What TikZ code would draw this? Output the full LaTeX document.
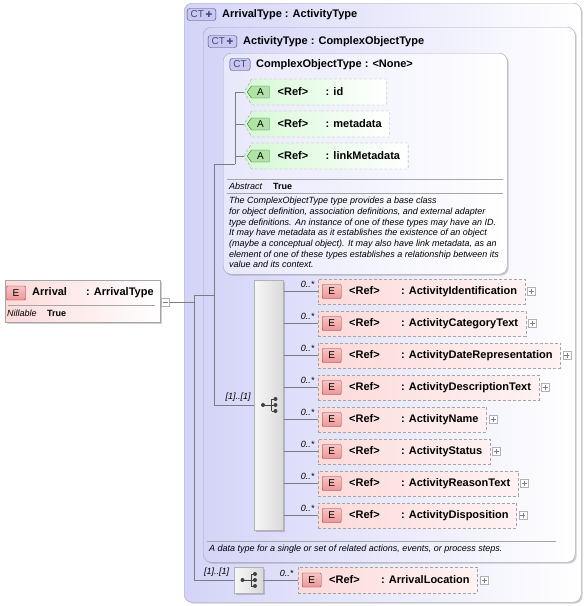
\documentclass[tikz,border=0pt]{standalone}
\usepackage{fontspec}
\setmainfont{Liberation Sans}
\newfontfamily\symfont{DejaVu Sans}
\usetikzlibrary{positioning,shapes.misc,shapes.symbols,shadows}
\definecolor{ctfill}{RGB}{212,212,248}
\definecolor{ctlight}{RGB}{232,232,252}
\definecolor{ctedge}{RGB}{165,165,180}
\definecolor{ctbadge}{RGB}{200,200,242}
\definecolor{ctdark}{RGB}{70,70,120}
\definecolor{elfill}{RGB}{252,218,218}
\definecolor{elbadge}{RGB}{238,150,150}
\definecolor{eldark}{RGB}{150,50,50}
\definecolor{atfill}{RGB}{214,248,214}
\definecolor{atbadge}{RGB}{176,228,166}
\definecolor{atdark}{RGB}{50,115,50}
\definecolor{lne}{RGB}{125,125,125}
\definecolor{dsh}{RGB}{165,165,165}
\newcommand{\NmFont}{\fontsize{11}{13}\selectfont\bfseries}
\newcommand{\DocFont}{\fontsize{9}{10.7}\selectfont\itshape}
\newcommand{\OccFont}{\fontsize{9}{11}\selectfont\itshape}
\newcommand{\CtPlus}{\,{\symfont\fontsize{8}{8}\selectfont ✚}}
\newcommand{\ElemText}[1]{\hspace*{31pt}\makebox[52pt][l]{<Ref>}: #1\hspace*{8pt}}
\newcommand{\AttrText}[1]{\hspace*{26pt}\makebox[48pt][l]{<Ref>}: #1\hspace*{8pt}}
\tikzset{
  TypeBox/.style={draw=ctedge,rounded corners=8pt,left color=ctfill,right color=white,inner sep=0pt,anchor=north west,
    drop shadow={shadow xshift=1.5pt,shadow yshift=-1.5pt,fill=black,opacity=.18}},
  InBox/.style={TypeBox,left color=ctlight},
  CtBadge/.style={draw=ctdark,fill=ctbadge,rounded corners=2.5pt,minimum height=12pt,inner xsep=3.5pt,inner ysep=0pt,text=ctdark,font=\fontsize{10}{10}\selectfont},
  Hdr/.style={anchor=west,inner sep=0pt,font=\NmFont},
  ElemBox/.style={draw=dsh,dash pattern=on 3pt off 2pt,left color=elfill,right color=elfill!35,minimum height=25pt,inner xsep=0pt,anchor=west,font=\NmFont},
  EBadge/.style={draw=eldark,top color=elbadge!55,bottom color=elbadge,minimum width=19pt,minimum height=14pt,inner sep=0pt,rounded corners=1pt,font=\fontsize{10}{10}\selectfont},
  AttrBox/.style={shape=signal,signal to=west,signal pointer angle=120,draw=dsh,dash pattern=on 3pt off 2pt,left color=atfill,right color=white,
    minimum height=26pt,inner xsep=0pt,anchor=west,font=\NmFont},
  ABadge/.style={shape=signal,signal to=west,signal pointer angle=110,draw=atdark,fill=atbadge,minimum height=12pt,minimum width=22pt,inner sep=0pt,font=\fontsize{10}{10}\selectfont},
  SeqBox/.style={draw=gray!60,left color=gray!6,right color=gray!30,inner sep=0pt,
    drop shadow={shadow xshift=1.5pt,shadow yshift=-1.5pt,fill=black,opacity=.18}},
  PlusBox/.style={draw=gray!60,fill=white,minimum size=8pt,inner sep=0pt,
    path picture={\draw[gray,line width=.5pt] (path picture bounding box.center) +(-2.5,0) -- +(2.5,0)
      (path picture bounding box.center) +(0,-2.5) -- +(0,2.5);}},
  MinusBox/.style={draw=gray!60,fill=white,minimum size=8pt,inner sep=0pt,
    path picture={\draw[gray,line width=.5pt] (path picture bounding box.center) +(-2.5,0) -- +(2.5,0);}},
  Occ/.style={inner sep=0.5pt,font=\OccFont},
  Doc/.style={anchor=north west,align=left,inner sep=0pt,font=\DocFont},
  SepLine/.style={draw=gray!70,line width=.6pt},
  seqmark/.pic={
    \draw[black!75,line width=.7pt] (-6,0) -- (2.5,0) (2.5,-6) -- (2.5,6) (2.5,-6) -- (6.5,-6) (2.5,6) -- (6.5,6) (2.5,0) -- (6.5,0);
    \fill[black!75] (-6,0) circle (2) (6.5,-6) circle (2) (6.5,0) circle (2) (6.5,6) circle (2);
  }
}

\begin{document}
\begin{tikzpicture}[x=1pt,y=-1pt]
  \useasboundingbox (0,0) rectangle (588,606);
  \node[TypeBox,minimum width=397pt,minimum height=599pt] (ArrT) at (184,3) {};
  \node[TypeBox,minimum width=372pt,minimum height=535pt] (ActT) at (203,27) {};
  \node[InBox,minimum width=284pt,minimum height=221pt] (CoT) at (223,53) {};
  \node[CtBadge] (ArrT-b) at (201.5,14.5) {CT\CtPlus};
  \node[Hdr] (ArrT-h) at (222,14.5) {ArrivalType : ActivityType};
  \node[CtBadge] (ActT-b) at (222.5,41.5) {CT\CtPlus};
  \node[Hdr] (ActT-h) at (243,41.5) {ActivityType : ComplexObjectType};
  \node[CtBadge] (CoT-b) at (240,64.5) {CT};
  \node[Hdr] (CoT-h) at (256,64.5) {ComplexObjectType : <None>};

  \node[draw=gray!70,left color=elfill,right color=white,minimum width=155pt,minimum height=42pt,inner sep=0pt,anchor=north west,
    drop shadow={shadow xshift=1.5pt,shadow yshift=-1.5pt,fill=black,opacity=.18}] (Arr) at (5,280) {};
  \node[EBadge] (Arr-b) at (16,293) {E};
  \node[Hdr] (Arr-n) at (32,292.5) {\makebox[54pt][l]{Arrival}: ArrivalType};
  \draw[SepLine] (8,305) -- (155,305);
  \node[anchor=west,inner sep=0pt,font=\fontsize{9}{11}\selectfont\itshape] (Arr-k) at (7,313) {Nillable};
  \node[anchor=west,inner sep=0pt,font=\fontsize{9}{11}\selectfont\bfseries] (Arr-v) at (47,313) {True};
  \node[MinusBox] (mArr) at (165.5,302) {};

  \node[AttrBox] (a1) at (244,92) {\AttrText{id}\hspace*{35pt}};
  \node[AttrBox] (a2) at (244,124) {\AttrText{metadata}};
  \node[AttrBox] (a3) at (244,156) {\AttrText{linkMetadata}};
  \node[ABadge,right=3pt of a1.west] (a1b) {A};
  \node[ABadge,right=3pt of a2.west] (a2b) {A};
  \node[ABadge,right=3pt of a3.west] (a3b) {A};

  \draw[SepLine] (227,179) -- (503,179);
  \node[anchor=west,inner sep=0pt,font=\fontsize{9}{11}\selectfont\itshape] (CoT-k) at (229,186) {Abstract};
  \node[anchor=west,inner sep=0pt,font=\fontsize{9}{11}\selectfont\bfseries] (CoT-v) at (273,186) {True};
  \draw[SepLine] (227,193) -- (503,193);
  \node[Doc] (CoT-d) at (229,197) {The ComplexObjectType type provides a base class\\
    for object definition, association definitions, and external adapter\\
    type definitions. An instance of one of these types may have an ID.\\
    It may have metadata as it establishes the existence of an object\\
    (maybe a conceptual object). It may also have link metadata, as an\\
    element of one of these types establishes a relationship between its\\
    value and its context.};

  \node[SeqBox,minimum width=29pt,minimum height=250pt] (sq1) at (269,405) {};
  \pic at (sq1.center) {seqmark};
  \node[Occ,above left=3pt and 3pt of sq1.west] (sq1-o) {[1]..[1]};

  \node[ElemBox] (e1) at (318,291.5) {\ElemText{ActivityIdentification}};
  \node[ElemBox] (e2) at (318,323.5) {\ElemText{ActivityCategoryText}};
  \node[ElemBox] (e3) at (318,355.5) {\ElemText{ActivityDateRepresentation}};
  \node[ElemBox] (e4) at (318,387.5) {\ElemText{ActivityDescriptionText}};
  \node[ElemBox] (e5) at (318,419.5) {\ElemText{ActivityName}};
  \node[ElemBox] (e6) at (318,451.5) {\ElemText{ActivityStatus}};
  \node[ElemBox] (e7) at (318,483.5) {\ElemText{ActivityReasonText}};
  \node[ElemBox] (e8) at (318,515.5) {\ElemText{ActivityDisposition}};
  \node[EBadge,right=4pt of e1.west] (e1b) {E};
  \node[EBadge,right=4pt of e2.west] (e2b) {E};
  \node[EBadge,right=4pt of e3.west] (e3b) {E};
  \node[EBadge,right=4pt of e4.west] (e4b) {E};
  \node[EBadge,right=4pt of e5.west] (e5b) {E};
  \node[EBadge,right=4pt of e6.west] (e6b) {E};
  \node[EBadge,right=4pt of e7.west] (e7b) {E};
  \node[EBadge,right=4pt of e8.west] (e8b) {E};
  \node[PlusBox,right=2pt of e1.east] (e1p) {};
  \node[PlusBox,right=2pt of e2.east] (e2p) {};
  \node[PlusBox,right=2pt of e3.east] (e3p) {};
  \node[PlusBox,right=2pt of e4.east] (e4p) {};
  \node[PlusBox,right=2pt of e5.east] (e5p) {};
  \node[PlusBox,right=2pt of e6.east] (e6p) {};
  \node[PlusBox,right=2pt of e7.east] (e7p) {};
  \node[PlusBox,right=2pt of e8.east] (e8p) {};
  \node[Occ,above left=3pt and 3pt of e1.west] (e1o) {0..*};
  \node[Occ,above left=3pt and 3pt of e2.west] (e2o) {0..*};
  \node[Occ,above left=3pt and 3pt of e3.west] (e3o) {0..*};
  \node[Occ,above left=3pt and 3pt of e4.west] (e4o) {0..*};
  \node[Occ,above left=3pt and 3pt of e5.west] (e5o) {0..*};
  \node[Occ,above left=3pt and 3pt of e6.west] (e6o) {0..*};
  \node[Occ,above left=3pt and 3pt of e7.west] (e7o) {0..*};
  \node[Occ,above left=3pt and 3pt of e8.west] (e8o) {0..*};

  \draw[SepLine] (207,541) -- (556,541);
  \node[Doc,anchor=west] (ActT-d) at (209,549.5) {A data type for a single or set of related actions, events, or process steps.};

  \node[SeqBox,minimum width=29pt,minimum height=26pt] (sq2) at (248.5,580) {};
  \pic at (sq2.center) {seqmark};
  \node[Occ,above left=3pt and 4pt of sq2.west] (sq2-o) {[1]..[1]};
  \node[ElemBox,minimum height=26pt] (loc) at (298,580) {\ElemText{ArrivalLocation}};
  \node[EBadge,right=4pt of loc.west] (locb) {E};
  \node[PlusBox,right=2pt of loc.east] (locp) {};
  \node[Occ,above left=3pt and 4pt of loc.west] (loco) {0..*};

  \coordinate (v1) at (194,295);
  \coordinate (v2) at (214,164);
  \coordinate (v3) at (235,164);
  \begin{scope}[draw=lne,line width=.6pt]
    \draw (mArr.east) -- (mArr.east -| v1);
    \draw (v1) |- (sq2.west);
    \draw (v1) -- (v1 -| v2);
    \draw (v2) |- (sq1.west);
    \draw (v2) -- (v3);
    \draw (v3) |- (a1.west);
    \draw (v3) |- (a2.west);
    \draw (v3) |- (a3.west);
    \draw (sq1.east |- e1.west) -- (e1.west);
    \draw (sq1.east |- e2.west) -- (e2.west);
    \draw (sq1.east |- e3.west) -- (e3.west);
    \draw (sq1.east |- e4.west) -- (e4.west);
    \draw (sq1.east |- e5.west) -- (e5.west);
    \draw (sq1.east |- e6.west) -- (e6.west);
    \draw (sq1.east |- e7.west) -- (e7.west);
    \draw (sq1.east |- e8.west) -- (e8.west);
    \draw (sq2.east) -- (loc.west);
  \end{scope}
\end{tikzpicture}
\end{document}
